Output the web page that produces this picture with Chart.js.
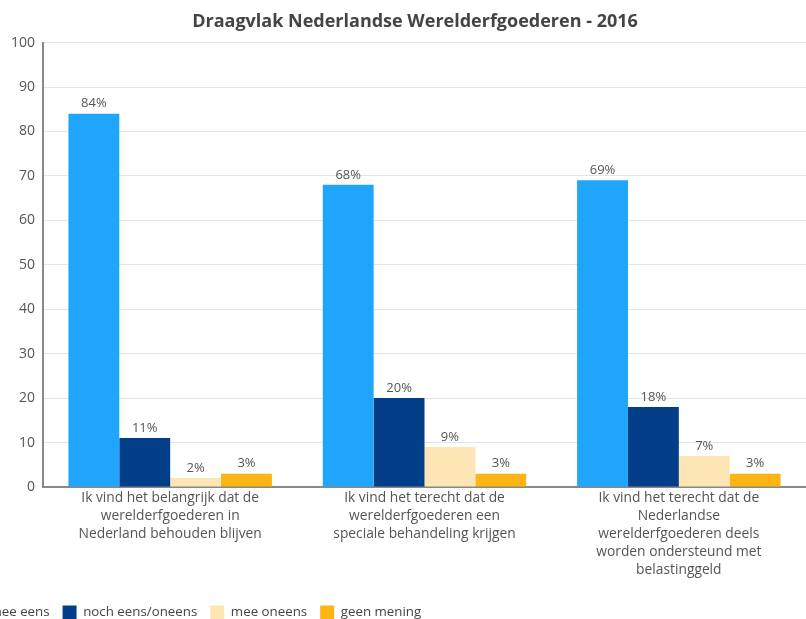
<!DOCTYPE html>
<html>
<head>
<meta charset="utf-8">
<script src="https://cdn.jsdelivr.net/npm/chart.js@4.4.0/dist/chart.umd.min.js"></script>
<style>
  html, body { margin: 0; padding: 0; background: #fff; }
  #wrap { width: 806px; height: 619px; }
</style>
</head>
<body>
<div id="wrap"><canvas id="barChart" width="806" height="619"></canvas></div>
<script>
// data
const categories = [
  ['Ik vind het belangrijk dat de', 'werelderfgoederen in', 'Nederland behouden blijven'],
  ['Ik vind het terecht dat de', 'werelderfgoederen een', 'speciale behandeling krijgen'],
  ['Ik vind het terecht dat de', 'Nederlandse', 'werelderfgoederen deels', 'worden ondersteund met', 'belastinggeld']
];
const meeEens = [84, 68, 69];
const nochEens = [11, 20, 18];
const meeOneens = [2, 9, 7];
const geenMening = [3, 3, 3];

const FONT = '"Open Sans", "Noto Sans", sans-serif';

// draws the "84%" labels above the bars
const valueLabels = {
  id: 'valueLabels',
  afterDatasetsDraw(chart) {
    const ctx = chart.ctx;
    ctx.save();
    ctx.font = '13px ' + FONT;
    ctx.fillStyle = '#555';
    ctx.textAlign = 'center';
    ctx.textBaseline = 'middle';
    chart.data.datasets.forEach((ds, i) => {
      chart.getDatasetMeta(i).data.forEach((bar, j) => {
        ctx.fillText(ds.data[j] + '%', bar.x, bar.y - 10);
      });
    });
    ctx.restore();
  }
};

// the legend sits off-center to the left in the original, title a bit right
const shiftBoxes = {
  id: 'shiftBoxes',
  afterLayout(chart) {
    const lg = chart.legend;
    const dx = -208;
    const dy = 611 - (lg.top + lg.bottom) / 2;
    lg.left += dx; lg.right += dx;
    lg.top += dy; lg.bottom += dy;
    const t = chart.titleBlock;
    t.left += 12; t.right += 12;
    // let the long category labels run past the axis box
    chart.scales.x.bottom = chart.height;
  }
};

new Chart(document.getElementById('barChart').getContext('2d'), {
  type: 'bar',
  data: {
    labels: categories,
    datasets: [
      { label: 'mee eens', data: meeEens, backgroundColor: '#1fa6fc' },
      { label: 'noch eens/oneens', data: nochEens, backgroundColor: '#023f88' },
      { label: 'mee oneens', data: meeOneens, backgroundColor: '#fde6b4' },
      { label: 'geen mening', data: geenMening, backgroundColor: '#fdb415' }
    ]
  },
  options: {
    responsive: false,
    animation: false,
    layout: { padding: 0 },
    datasets: { bar: { categoryPercentage: 0.8, barPercentage: 1.0 } },
    plugins: {
      title: {
        display: true,
        text: 'Draagvlak Nederlandse Werelderfgoederen - 2016',
        color: '#444',
        font: { family: FONT, size: 18, weight: 'bold' },
        padding: { top: 11, bottom: 10 }
      },
      legend: {
        position: 'bottom',
        labels: {
          color: '#444',
          font: { family: FONT, size: 13.3 },
          boxWidth: 14,
          boxHeight: 14,
          padding: 13
        }
      },
      tooltip: { enabled: false }
    },
    scales: {
      x: {
        grid: { display: false, drawTicks: false },
        border: { color: '#888', width: 2 },
        ticks: {
          color: '#555',
          font: { family: FONT, size: 13.8, lineHeight: 1.31 },
          padding: 2,
          maxRotation: 0,
          autoSkip: false
        },
        afterFit(scale) { scale.height = 95; }
      },
      y: {
        min: 0,
        max: 100,
        ticks: { stepSize: 10, color: '#555', font: { family: FONT, size: 14 }, padding: 8 },
        grid: { color: '#e4e4e4', drawTicks: false },
        border: { color: '#888', width: 2 },
        afterFit(scale) { scale.width = 43; }
      }
    }
  },
  plugins: [valueLabels, shiftBoxes]
});
</script>
</body>
</html>
